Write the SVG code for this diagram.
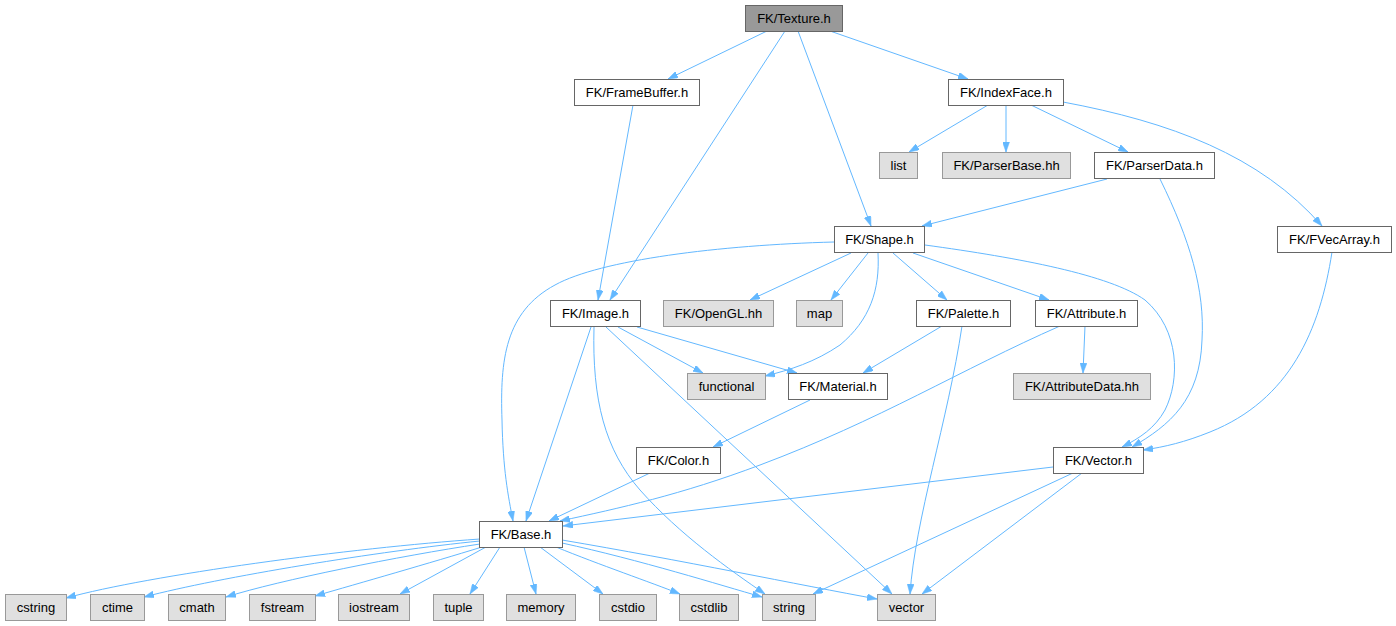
<svg xmlns="http://www.w3.org/2000/svg" width="1396" height="626" viewBox="0 0 1396 626">
<style>
.n rect{fill:#ffffff;stroke:#666666;stroke-width:1}
.x rect{fill:#e0e0e0;stroke:#999999;stroke-width:1}
.r rect{fill:#999999;stroke:#666666;stroke-width:1}
text{font-family:"Liberation Sans",Arial,Helvetica,sans-serif;font-size:13px;fill:#000000;text-anchor:middle}
#edges path{fill:none;stroke:#63b8ff;stroke-width:1;marker-end:url(#ah)}
</style>
<defs>
<marker id="ah" viewBox="0 0 10 7" refX="10" refY="3.5" markerWidth="10" markerHeight="7" markerUnits="userSpaceOnUse" orient="auto">
<path d="M0,0 L10,3.5 L0,7 z" fill="#63b8ff" stroke="#63b8ff" stroke-width="0.5"/>
</marker>
</defs>
<rect width="1396" height="626" fill="#ffffff"/>
<g id="edges">
<path d="M767,31 L668,79"/>
<path d="M785,31 L610,300"/>
<path d="M798,31 L871,226"/>
<path d="M830,31 L968,79"/>
<path d="M633,105 L598,300"/>
<path d="M988,105 L909,152"/>
<path d="M1006,105 L1006,152"/>
<path d="M1031,105 L1128,152"/>
<path d="M1063,102 C1170,122 1260,155 1322,226"/>
<path d="M1107,179 L922,226"/>
<path d="M1160,179 C1190,240 1205,290 1202,340 C1200,400 1170,425 1132,447"/>
<path d="M1332,252 C1320,330 1290,400 1210,432 C1185,442 1165,447 1143,450"/>
<path d="M834,242 C720,245 600,260 555,285 C505,312 500,360 502,420 C503,470 508,495 513,521"/>
<path d="M851,253 L750,300"/>
<path d="M868,253 L831,300"/>
<path d="M878,253 C880,290 870,320 840,345 C815,362 790,370 765,376"/>
<path d="M893,253 L947,300"/>
<path d="M913,253 L1049,300"/>
<path d="M925,245 C1020,258 1110,275 1145,300 C1180,330 1180,380 1165,410 C1155,428 1140,438 1122,447"/>
<path d="M618,327 L703,373"/>
<path d="M637,327 L797,373"/>
<path d="M591,327 L526,521"/>
<path d="M594,327 C592,400 605,450 640,490 C680,535 730,570 765,594"/>
<path d="M606,327 L892,594"/>
<path d="M942,326 L863,373"/>
<path d="M962,326 C948,420 915,520 910,594"/>
<path d="M1085,326 L1083,373"/>
<path d="M1060,326 C960,370 880,420 760,465 C680,495 620,508 560,521"/>
<path d="M810,400 L713,447"/>
<path d="M650,473 L549,521"/>
<path d="M1053,467 L563,526"/>
<path d="M1073,473 L813,594"/>
<path d="M1082,473 L922,594"/>
<path d="M480,539 C350,548 150,575 66,598"/>
<path d="M480,541 C380,551 220,577 144,597"/>
<path d="M480,544 C400,556 280,580 226,597"/>
<path d="M482,547 C430,563 360,583 315,596"/>
<path d="M486,547 L400,594"/>
<path d="M500,547 L470,594"/>
<path d="M524,547 L536,594"/>
<path d="M540,547 L603,594"/>
<path d="M556,547 C600,565 650,582 680,594"/>
<path d="M562,543 C640,560 720,585 762,597"/>
<path d="M562,540 C680,560 800,585 877,599"/>
</g>
<g id="n_texture" class="r"><rect x="745.5" y="5.5" width="97" height="26"/><text x="794" y="23">FK/Texture.h</text></g>
<g id="n_framebuffer" class="n"><rect x="574.5" y="79.5" width="125" height="26"/><text x="637" y="97">FK/FrameBuffer.h</text></g>
<g id="n_indexface" class="n"><rect x="948.5" y="79.5" width="115" height="26"/><text x="1006" y="97">FK/IndexFace.h</text></g>
<g id="n_list" class="x"><rect x="879.5" y="152.5" width="38" height="26"/><text x="898.5" y="170">list</text></g>
<g id="n_parserbase" class="x"><rect x="942.5" y="152.5" width="128" height="26"/><text x="1006.5" y="170">FK/ParserBase.hh</text></g>
<g id="n_parserdata" class="n"><rect x="1094.5" y="152.5" width="120" height="26"/><text x="1154.5" y="170">FK/ParserData.h</text></g>
<g id="n_shape" class="n"><rect x="834.5" y="226.5" width="90" height="26"/><text x="879.5" y="244">FK/Shape.h</text></g>
<g id="n_fvecarray" class="n"><rect x="1277.5" y="226.5" width="114" height="26"/><text x="1334.5" y="244">FK/FVecArray.h</text></g>
<g id="n_image" class="n"><rect x="550.5" y="300.5" width="90" height="26"/><text x="595.5" y="318">FK/Image.h</text></g>
<g id="n_opengl" class="x"><rect x="663.5" y="300.5" width="110" height="26"/><text x="718.5" y="318">FK/OpenGL.hh</text></g>
<g id="n_map" class="x"><rect x="796.5" y="300.5" width="46" height="26"/><text x="819.5" y="318">map</text></g>
<g id="n_palette" class="n"><rect x="916.5" y="300.5" width="94" height="26"/><text x="963.5" y="318">FK/Palette.h</text></g>
<g id="n_attribute" class="n"><rect x="1035.5" y="300.5" width="102" height="26"/><text x="1086.5" y="318">FK/Attribute.h</text></g>
<g id="n_functional" class="x"><rect x="687.5" y="373.5" width="78" height="26"/><text x="726.5" y="391">functional</text></g>
<g id="n_material" class="n"><rect x="788.5" y="373.5" width="99" height="26"/><text x="838" y="391">FK/Material.h</text></g>
<g id="n_attributedata" class="x"><rect x="1013.5" y="373.5" width="137" height="26"/><text x="1082" y="391">FK/AttributeData.hh</text></g>
<g id="n_color" class="n"><rect x="636.5" y="447.5" width="84" height="26"/><text x="678.5" y="465">FK/Color.h</text></g>
<g id="n_vector_h" class="n"><rect x="1053.5" y="447.5" width="90" height="26"/><text x="1098.5" y="465">FK/Vector.h</text></g>
<g id="n_base" class="n"><rect x="479.5" y="521.5" width="83" height="26"/><text x="521" y="539">FK/Base.h</text></g>
<g id="n_cstring" class="x"><rect x="5.5" y="594.5" width="61" height="26"/><text x="36" y="612">cstring</text></g>
<g id="n_ctime" class="x"><rect x="90.5" y="594.5" width="54" height="26"/><text x="117.5" y="612">ctime</text></g>
<g id="n_cmath" class="x"><rect x="168.5" y="594.5" width="57" height="26"/><text x="197" y="612">cmath</text></g>
<g id="n_fstream" class="x"><rect x="249.5" y="594.5" width="66" height="26"/><text x="282.5" y="612">fstream</text></g>
<g id="n_iostream" class="x"><rect x="338.5" y="594.5" width="71" height="26"/><text x="374" y="612">iostream</text></g>
<g id="n_tuple" class="x"><rect x="433.5" y="594.5" width="50" height="26"/><text x="458.5" y="612">tuple</text></g>
<g id="n_memory" class="x"><rect x="506.5" y="594.5" width="69" height="26"/><text x="541" y="612">memory</text></g>
<g id="n_cstdio" class="x"><rect x="599.5" y="594.5" width="57" height="26"/><text x="628" y="612">cstdio</text></g>
<g id="n_cstdlib" class="x"><rect x="679.5" y="594.5" width="59" height="26"/><text x="709" y="612">cstdlib</text></g>
<g id="n_string" class="x"><rect x="762.5" y="594.5" width="53" height="26"/><text x="789" y="612">string</text></g>
<g id="n_vector" class="x"><rect x="877.5" y="594.5" width="58" height="26"/><text x="906.5" y="612">vector</text></g>
</svg>
